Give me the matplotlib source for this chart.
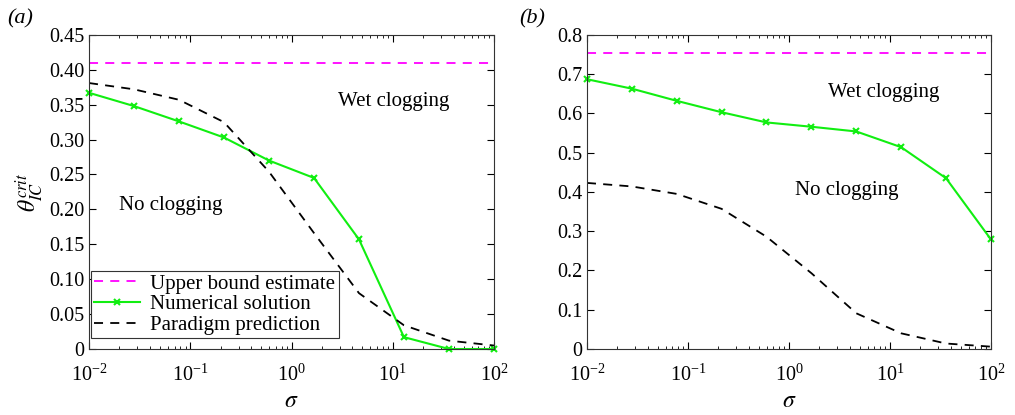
import matplotlib
matplotlib.use("Agg")
import matplotlib.pyplot as plt
from matplotlib.ticker import FixedLocator, FuncFormatter, LogLocator, NullFormatter

plt.rcParams['font.family'] = ['Liberation Serif', 'DejaVu Serif']
plt.rcParams['mathtext.fontset'] = 'stix'

# sigma values (same for both panels)
sigma = [0.01, 0.0278, 0.0774, 0.215, 0.599, 1.67, 4.64, 12.9, 35.9, 100]

# panel (a)
numA = [0.367, 0.348, 0.326, 0.303, 0.270, 0.245, 0.157, 0.017, 0.0, 0.0]
parA = [0.381, 0.372, 0.357, 0.325, 0.254, 0.166, 0.080, 0.034, 0.012, 0.005]
upperA = 0.410

# panel (b)
numB = [0.687, 0.663, 0.632, 0.603, 0.577, 0.566, 0.554, 0.514, 0.435, 0.279]
parB = [0.423, 0.414, 0.395, 0.357, 0.286, 0.193, 0.091, 0.040, 0.014, 0.006]
upperB = 0.753

green = '#11ee11'
magenta = '#ff00ff'

fig = plt.figure(figsize=(10.15, 4.15), dpi=100)
axA = fig.add_axes([0.0877, 0.159, 0.399, 0.757])
axB = fig.add_axes([0.5783, 0.159, 0.398, 0.757])


def fmt(v, pos, nd):
    if abs(v) < 1e-9:
        return '0'
    return ('%.' + str(nd) + 'f') % v


def style(ax, yticks, ymax, nd):
    ax.set_xscale('log')
    ax.set_xlim(0.01, 100)
    ax.set_ylim(0, ymax)
    ax.yaxis.set_major_locator(FixedLocator(yticks))
    ax.yaxis.set_major_formatter(FuncFormatter(lambda v, p: fmt(v, p, nd)))
    ax.xaxis.set_major_locator(LogLocator(base=10, numticks=10))
    ax.xaxis.set_minor_locator(LogLocator(base=10, subs=range(2, 10), numticks=10))
    ax.xaxis.set_minor_formatter(NullFormatter())
    ax.tick_params(which='both', direction='in', top=True, right=True, labelsize=14.5)
    ax.tick_params(which='major', length=5, width=0.8)
    ax.tick_params(which='minor', length=2.5, width=0.6)
    ax.tick_params(axis='x', pad=11)
    for s in ax.spines.values():
        s.set_linewidth(0.8)
        s.set_color('#333333')
    ax.set_xlabel(r'$\sigma$', fontsize=17, labelpad=4)


# panel (a)
axA.axhline(upperA, color=magenta, ls='--', lw=1.3, dashes=(5, 4), label='Upper bound estimate')
axA.plot(sigma, numA, color=green, lw=1.5, marker='x', ms=5, mew=1.5, label='Numerical solution',
         clip_on=False)
axA.plot(sigma, parA, color='black', ls='--', lw=1.3, dashes=(5, 4), label='Paradigm prediction')
style(axA, [0, 0.05, 0.10, 0.15, 0.20, 0.25, 0.30, 0.35, 0.40, 0.45], 0.45, 2)
axA.set_ylabel(r'$\theta_{IC}^{crit}$', fontsize=17, labelpad=2)
axA.text(2.9, 0.354, 'Wet clogging', fontsize=15, va='center', ha='left')
axA.text(0.02, 0.205, 'No clogging', fontsize=15, va='center', ha='left')
leg = axA.legend(loc='lower left', bbox_to_anchor=(0.005, 0.035), fontsize=15, frameon=True,
                 fancybox=False, edgecolor='#333333', framealpha=1, borderpad=0.15,
                 labelspacing=0.05, handlelength=2.2, handletextpad=0.5, borderaxespad=0)
leg.get_frame().set_linewidth(0.8)

# panel (b)
axB.axhline(upperB, color=magenta, ls='--', lw=1.3, dashes=(5, 4))
axB.plot(sigma, numB, color=green, lw=1.5, marker='x', ms=5, mew=1.5, clip_on=False)
axB.plot(sigma, parB, color='black', ls='--', lw=1.3, dashes=(5, 4))
style(axB, [0, 0.1, 0.2, 0.3, 0.4, 0.5, 0.6, 0.7, 0.8], 0.8, 1)
axB.text(2.45, 0.654, 'Wet clogging', fontsize=15, va='center', ha='left')
axB.text(1.15, 0.403, 'No clogging', fontsize=15, va='center', ha='left')

fig.text(0.007, 0.955, '(a)', fontsize=16, style='italic', va='center')
fig.text(0.512, 0.955, '(b)', fontsize=16, style='italic', va='center')

fig.savefig('out.png', dpi=100)
